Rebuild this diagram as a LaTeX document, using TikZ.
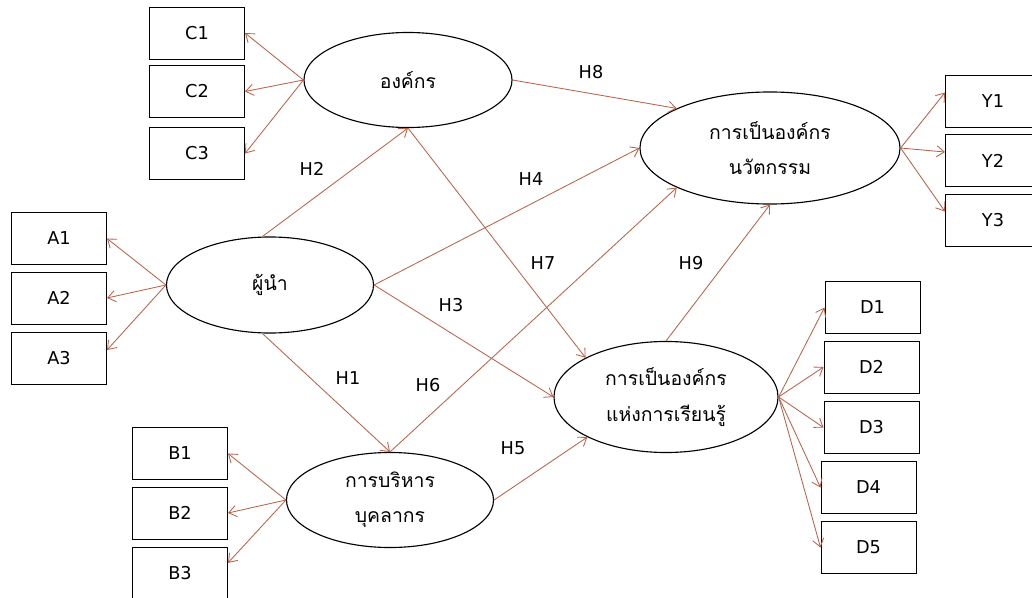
\documentclass[tikz,border=0pt]{standalone}
\usepackage{fontspec}
\setmainfont{DejaVu Sans}
\newfontfamily\thaifont[Script=Thai]{Loma}
\usepackage{tikz}
\usetikzlibrary{shapes.geometric,arrows.meta}
\definecolor{linkred}{RGB}{184,98,72}

\begin{document}
\begin{tikzpicture}[x=0.025cm, y=-0.025cm,
    latent/.style={draw, ellipse, inner sep=0pt, line width=0.8pt, align=center,
                   font=\thaifont\fontsize{13.8}{25}\selectfont},
    ind/.style={draw, rectangle, minimum width=2.375cm, minimum height=1.3cm,
                inner sep=0pt, line width=0.7pt, font=\fontsize{12.6}{15}\selectfont},
    link/.style={draw=linkred, line width=0.6pt, -{Straight Barb[length=5.5pt,width=8pt]}},
    hyp/.style={font=\fontsize{12.6}{15}\selectfont}]
    \useasboundingbox (0,0) rectangle (1032,598);
    \clip (0,0) rectangle (1032,598);

    % latent variables
    \node[latent, minimum width=5.2cm, minimum height=2.375cm] (org) at (408,80) {องค์กร};
    \node[latent, minimum width=5.175cm, minimum height=2.4cm] (lead) at (270,285) {ผู้นำ};
    \node[latent, minimum width=5.175cm, minimum height=2.375cm] (hr) at (390,500) {การบริหาร\\บุคลากร};
    \node[latent, minimum width=6.5cm, minimum height=2.8cm] (inno) at (770,148) {การเป็นองค์กร\\นวัตกรรม};
    \node[latent, minimum width=5.6cm, minimum height=2.775cm] (learn) at (666,397) {การเป็นองค์กร\\แห่งการเรียนรู้};

    % observed indicators
    \foreach \i/\y in {1/33,2/91.5,3/153.5}
        \node[ind] (c\i) at (197,\y) {C\i};
    \foreach \i/\y in {1/238.5,2/298,3/358.5}
        \node[ind] (a\i) at (59,\y) {A\i};
    \foreach \i/\y in {1/453.5,2/513,3/573}
        \node[ind] (b\i) at (180,\y) {B\i};
    \foreach \i/\y in {1/101,2/160.5,3/220}
        \node[ind] (y\i) at (993,\y) {Y\i};
    \foreach \i/\x/\y in {1/872.5/307.5,2/871.5/367,3/871.5/427.5,4/868.5/487.5,5/868.5/547.5}
        \node[ind] (d\i) at (\x,\y) {D\i};

    % loadings
    \foreach \i in {1,2,3} {
        \draw[link] (org.west) -- (c\i.east);
        \draw[link] (inno.east) -- (y\i.170);
    }
    \draw[link] (lead.west) -- (a1.east);
    \draw[link] (lead.west) -- (a2.east);
    \draw[link] (lead.west) -- (a3.10);
    \draw[link] (hr.west) -- (b1.east);
    \draw[link] (hr.west) -- (b2.east);
    \draw[link] (hr.west) -- (b3.12);
    \foreach \i in {1,...,5}
        \draw[link] (learn.east) -- (d\i.west);

    % hypothesised paths
    \draw[link] (lead.261) -- (hr.north);       % H1
    \draw[link] (lead.99) -- (org.south);       % H2
    \draw[link] (lead.east) -- (learn.west);    % H3
    \draw[link] (lead.east) -- (inno.west);     % H4
    \draw[link] (hr.east) -- (learn.207);       % H5
    \draw[link] (hr.north) -- (inno.203);       % H6
    \draw[link] (org.south) -- (learn.154);     % H7
    \draw[link] (org.east) -- (inno.157);       % H8
    \draw[link] (learn.north) -- (inno.south);  % H9

    % path labels
    \node[hyp] (h1) at (348,378) {H1};
    \node[hyp] (h2) at (312,169) {H2};
    \node[hyp] (h3) at (451,305) {H3};
    \node[hyp] (h4) at (531,179) {H4};
    \node[hyp] (h5) at (513,448) {H5};
    \node[hyp] (h6) at (428,385) {H6};
    \node[hyp] (h7) at (543,263) {H7};
    \node[hyp] (h8) at (591,72) {H8};
    \node[hyp] (h9) at (691,263) {H9};
\end{tikzpicture}
\end{document}
